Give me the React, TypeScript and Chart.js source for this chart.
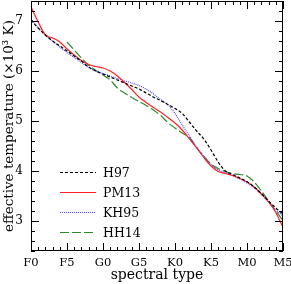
import React, { useEffect, useRef } from 'react';
import { Chart, registerables } from 'chart.js';

Chart.register(...registerables);

// spectral subtypes: F0=0, F5=5, G0=10, G5=15, K0=20, K5=25, M0=30, M5=35
const tickValues = [0, 5, 10, 15, 20, 25, 30, 35];
const tickLabels = ['F0', 'F5', 'G0', 'G5', 'K0', 'K5', 'M0', 'M5'];
const yTickValues = [3, 4, 5, 6, 7];

const subtypes = [0, 1, 2, 3, 4, 5, 6, 7, 8, 9, 10, 11, 12, 13, 14, 15, 16, 17, 18, 19, 20, 21, 22, 23, 24, 25, 26, 27, 28, 29, 30, 31, 32, 33, 34, 35];

const h97 = [7.02, 6.86, 6.72, 6.6, 6.5, 6.4, 6.3, 6.2, 6.08, 6.0, 5.94, 5.88, 5.82, 5.76, 5.7, 5.64, 5.56, 5.48, 5.41, 5.33, 5.25, 5.15, 4.98, 4.8, 4.64, 4.42, 4.18, 4.0, 3.93, 3.86, 3.79, 3.68, 3.55, 3.4, 3.26, 3.14];
const pm13 = [7.28, 6.98, 6.72, 6.66, 6.58, 6.44, 6.32, 6.21, 6.13, 6.09, 6.06, 6.0, 5.9, 5.77, 5.63, 5.48, 5.37, 5.27, 5.18, 5.07, 4.96, 4.82, 4.64, 4.46, 4.27, 4.1, 3.99, 3.95, 3.91, 3.85, 3.78, 3.68, 3.54, 3.38, 3.17, 2.87];
const kh95 = [7.05, 6.86, 6.72, 6.6, 6.48, 6.37, 6.27, 6.17, 6.07, 6.0, 5.95, 5.9, 5.85, 5.8, 5.76, 5.71, 5.64, 5.54, 5.43, 5.33, 5.15, 4.92, 4.7, 4.48, 4.3, 4.13, 4.02, 3.97, 3.91, 3.84, 3.76, 3.66, 3.53, 3.38, 3.22, 3.1];
const hh14Subtypes = [5, 6, 7, 8, 9, 10, 11, 12, 13, 14, 15, 16, 17, 18, 19, 20, 21, 22, 23, 24, 25, 26, 27, 28, 29, 30, 31, 32, 33, 34, 35];
const hh14 = [6.58, 6.42, 6.26, 6.12, 6.01, 5.92, 5.82, 5.66, 5.56, 5.47, 5.39, 5.31, 5.22, 5.11, 4.97, 4.86, 4.76, 4.67, 4.47, 4.29, 4.14, 4.05, 3.99, 3.95, 3.93, 3.9, 3.78, 3.6, 3.4, 3.2, 3.01];

const FONT = "'DejaVu Serif', 'Liberation Serif', serif";

const pts = (xs: number[], ys: number[]) => xs.map((x, i) => ({ x, y: ys[i] }));

const frameTicksPlugin = {
  id: 'frameTicks',
  afterDatasetsDraw(chart: any) {
    const { ctx, chartArea, scales } = chart;
    const { left, right, top, bottom } = chartArea;
    const xs = scales.x;
    const ys = scales.y;
    ctx.save();
    ctx.strokeStyle = '#000';
    ctx.lineWidth = 1;
    ctx.setLineDash([]);
    ctx.strokeRect(left + 0.5, top + 0.5, right - left - 1, bottom - top - 1);
    ctx.beginPath();
    for (let v = 0; v <= 35; v++) {
      const px = Math.round(xs.getPixelForValue(v)) + 0.5;
      const len = v % 5 === 0 ? 8 : 4;
      ctx.moveTo(px, bottom);
      ctx.lineTo(px, bottom - len);
      ctx.moveTo(px, top);
      ctx.lineTo(px, top + len);
    }
    for (let k = 12; k <= 37; k++) {
      const py = Math.round(ys.getPixelForValue(k / 5)) + 0.5;
      const len = k % 5 === 0 ? 8 : 4;
      ctx.moveTo(left, py);
      ctx.lineTo(left + len, py);
      ctx.moveTo(right, py);
      ctx.lineTo(right - len, py);
    }
    ctx.stroke();

    // legend inside plot
    const lx0 = left + 29;
    const lx1 = left + 65;
    const ly0 = top + 171;
    const dy = 20;
    ctx.font = `12.5px ${FONT}`;
    ctx.textBaseline = 'middle';
    ctx.textAlign = 'left';
    chart.data.datasets.forEach((ds: any, i: number) => {
      const y = Math.round(ly0 + i * dy) + 0.5;
      ctx.beginPath();
      ctx.strokeStyle = ds.borderColor;
      ctx.lineWidth = ds.borderWidth;
      ctx.setLineDash(ds.borderDash || []);
      ctx.moveTo(lx0, y);
      ctx.lineTo(lx1, y);
      ctx.stroke();
      ctx.setLineDash([]);
      ctx.fillStyle = '#000';
      ctx.fillText(ds.label, lx1 + 7, y + 1);
    });
    ctx.restore();
  },
};

export default function App() {
  const ref = useRef<HTMLCanvasElement | null>(null);
  useEffect(() => {
    document.body.style.margin = '0';
    const canvas = ref.current;
    if (!canvas) return;
    const common = { pointRadius: 0, fill: false, tension: 0.4, cubicInterpolationMode: 'monotone' as const, borderWidth: 1.2 };
    const chart = new Chart(canvas, {
      type: 'line',
      data: {
        datasets: [
          { ...common, label: 'H97', data: pts(subtypes, h97), borderColor: '#000000', borderDash: [3, 2] },
          { ...common, label: 'PM13', data: pts(subtypes, pm13), borderColor: '#ff2020' },
          { ...common, label: 'KH95', data: pts(subtypes, kh95), borderColor: '#4a4aff', borderDash: [1, 1] },
          { ...common, label: 'HH14', data: pts(hh14Subtypes, hh14), borderColor: '#2a8a2a', borderDash: [9, 3] },
        ],
      },
      options: {
        responsive: false,
        animation: false,
        devicePixelRatio: 1,
        layout: { padding: { top: 1, right: 8, left: 0, bottom: 0 } },
        plugins: { legend: { display: false }, tooltip: { enabled: false } },
        scales: {
          x: {
            type: 'linear',
            min: 0,
            max: 35,
            grid: { display: false, drawTicks: false },
            border: { display: false },
            afterFit: (s: any) => { s.height = 33; s.paddingLeft = 0; s.paddingRight = 0; },
            afterBuildTicks: (s: any) => { s.ticks = tickValues.map((v) => ({ value: v })); },
            ticks: {
              padding: 5,
              color: '#000',
              font: { family: FONT, size: 11.5 },
              maxRotation: 0,
              autoSkip: false,
              callback: (v: any) => tickLabels[tickValues.indexOf(Number(v))] ?? '',
            },
            title: { display: true, text: 'spectral type', color: '#000', font: { family: FONT, size: 14 }, padding: { top: 0, bottom: 0 } },
          },
          y: {
            type: 'linear',
            min: 2.4,
            max: 7.4,
            grid: { display: false, drawTicks: false },
            border: { display: false },
            afterFit: (s: any) => { s.width = 31; s.paddingTop = 0; s.paddingBottom = 0; },
            afterBuildTicks: (s: any) => { s.ticks = yTickValues.map((v) => ({ value: v })); },
            ticks: {
              padding: 8,
              color: '#000',
              font: { family: FONT, size: 12 },
              callback: (v: any) => String(v),
            },
            title: { display: true, text: 'effective temperature (×10³ K)', color: '#000', font: { family: FONT, size: 13.5 }, padding: { top: 1, bottom: 0 } },
          },
        },
      },
      plugins: [frameTicksPlugin],
    });
    return () => chart.destroy();
  }, []);
  return (
    <div style={{ width: 291, height: 284 }}>
      <canvas ref={ref} width={291} height={284} style={{ display: 'block' }} />
    </div>
  );
}
